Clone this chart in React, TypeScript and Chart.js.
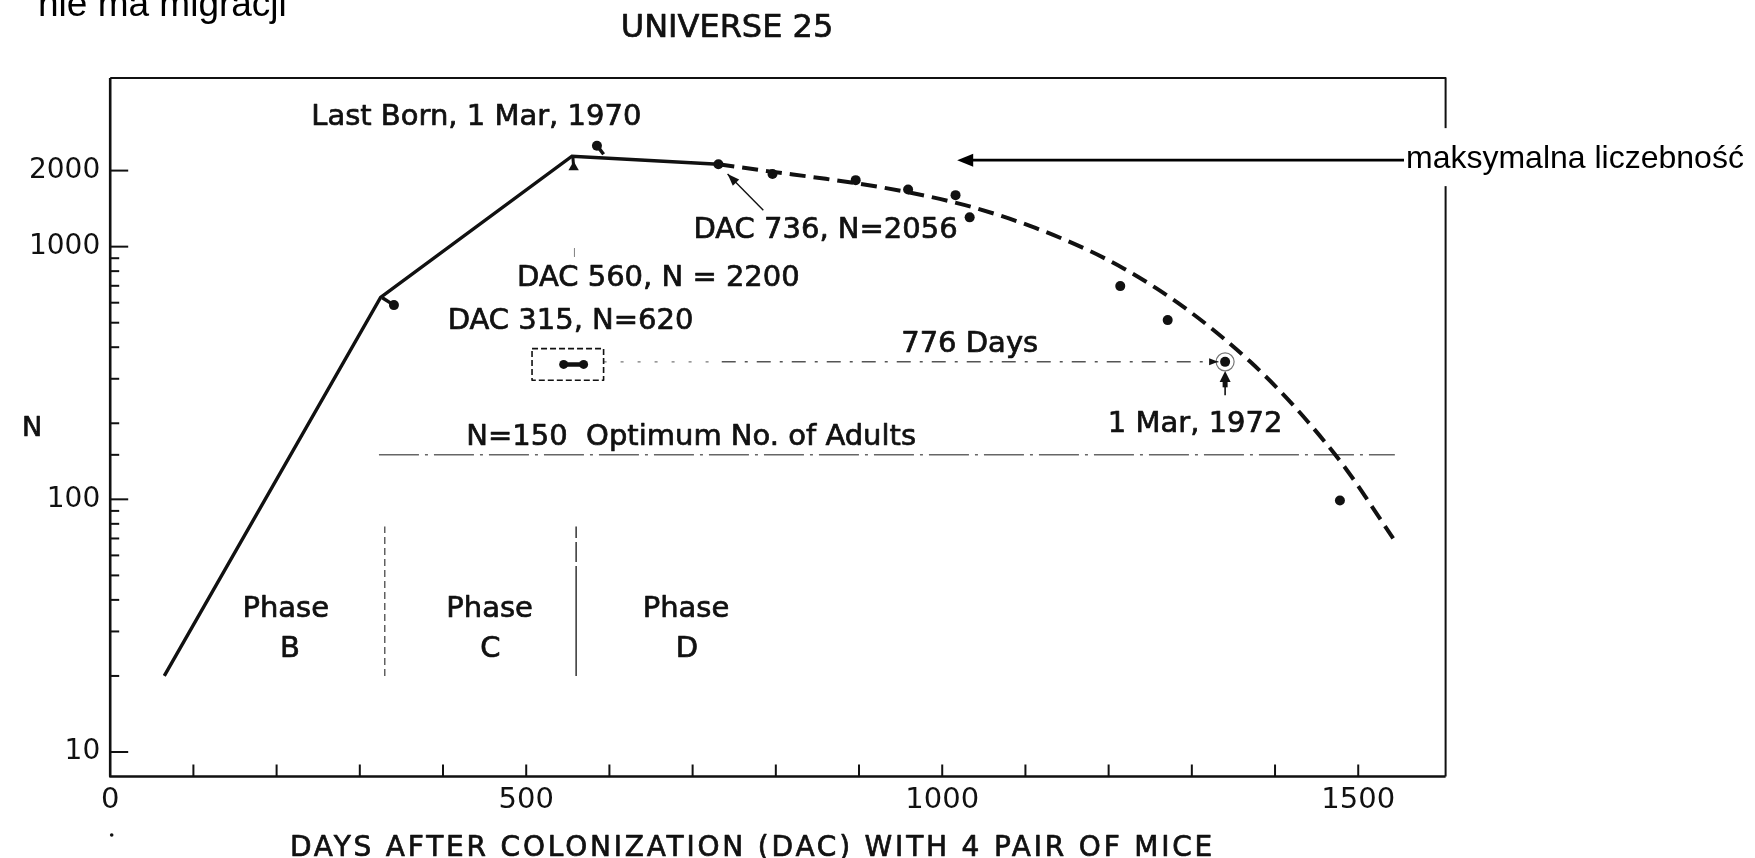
import React, { useEffect, useRef } from 'react';
import { Chart, registerables } from 'chart.js';

Chart.register(...registerables);

// ---------------- data ----------------
// solid population line (days after colonization, N)
const solidDays = [65, 325, 555, 731];
const solidN = [20, 630, 2280, 2120];

// dashed decline curve
const curveDays = [731, 790, 860, 928, 997, 1043, 1112, 1178, 1218, 1258, 1298, 1338, 1370, 1402, 1440, 1486, 1542];
const curveN = [2120, 1990, 1855, 1715, 1545, 1413, 1186, 959, 820, 682, 552, 434, 351, 277, 202, 131, 70];

// observed census points
const dotDays = [731, 796, 896, 959, 1016, 1033, 1214, 1271, 1340, 1478, 341, 585];
const dotN = [2120, 1940, 1833, 1683, 1599, 1306, 698, 512, 350, 99, 587, 2510];

// pair of points in the small box (start of the 776-day span)
const boxDotDays = [545, 569];
const boxDotN = [342, 342];
const boxDays = [507, 593];
const boxN = [296, 395];

// reference lines
const optimumDays = [323, 1544];
const optimumN = [150, 150];
const spanSparseDays = [593, 735];
const spanDays = [735, 1332];
const spanN = [350, 350];

// phase boundaries
const phaseBoundaryDays = [330, 560];
const phaseBoundaryN = [20, 78];

// markers pointing at the curve
const lastBornDays = [585, 593];
const lastBornN = [2510, 2320];
const peakMarkDays = [557, 556];
const peakMarkN = [2063, 2280];
const kneeMarkDays = [341, 327];
const kneeMarkN = [587, 628];
const peakTickDays = [558, 558];
const peakTickN = [986, 912];

// DAC 736 pointer, circled point arrow
const dac736PointerDays = [785, 742];
const dac736PointerN = [1394, 1937];
const circledDay = 1340;
const circledN = 350;
const upArrowN = [258, 322];
const maxArrowDay = 1018;
const maxArrowN = 2200;

// ticks
const xTickDays = [0, 100, 200, 300, 400, 500, 600, 700, 800, 900, 1000, 1100, 1200, 1300, 1400, 1500, 1600];
const xLabelDays = [0, 500, 1000, 1500];
const yTickValues = [10, 20, 30, 40, 50, 60, 70, 80, 90, 100, 150, 200, 300, 400, 500, 600, 700, 800, 900, 1000, 2000];
const yLabelValues = [10, 100, 1000, 2000];

const FONT = '"DejaVu Sans", "Liberation Sans", sans-serif';
const INK = '#111';

const pts = (xs: number[], ys: number[]) => xs.map((x, i) => ({ x, y: ys[i] }));

type Ann = { text: string; day: number; n: number; align: CanvasTextAlign };
const annotations: Ann[] = [
  { text: 'Last Born, 1 Mar, 1970', day: 440, n: 3340, align: 'center' },
  { text: 'DAC 736, N=2056', day: 701, n: 1189, align: 'left' },
  { text: 'DAC 560, N = 2200', day: 489, n: 766, align: 'left' },
  { text: 'DAC 315, N=620', day: 701, n: 520, align: 'right' },
  { text: '776 Days', day: 1033, n: 423, align: 'center' },
  { text: '1 Mar, 1972', day: 1304, n: 204, align: 'center' },
  { text: 'N=150  Optimum No. of Adults', day: 428, n: 181, align: 'left' },
  { text: 'Phase', day: 211, n: 37.8, align: 'center' },
  { text: 'B', day: 216, n: 26.2, align: 'center' },
  { text: 'Phase', day: 456, n: 37.8, align: 'center' },
  { text: 'C', day: 457, n: 26.2, align: 'center' },
  { text: 'Phase', day: 692, n: 37.8, align: 'center' },
  { text: 'D', day: 693, n: 26.2, align: 'center' },
];

function arrowHead(ctx: CanvasRenderingContext2D, x1: number, y1: number, x2: number, y2: number, len: number, half: number) {
  const a = Math.atan2(y2 - y1, x2 - x1);
  ctx.beginPath();
  ctx.moveTo(x2, y2);
  ctx.lineTo(x2 - len * Math.cos(a) + half * Math.sin(a), y2 - len * Math.sin(a) - half * Math.cos(a));
  ctx.lineTo(x2 - len * Math.cos(a) - half * Math.sin(a), y2 - len * Math.sin(a) + half * Math.cos(a));
  ctx.closePath();
  ctx.fill();
}

function boldText(ctx: CanvasRenderingContext2D, s: string, x: number, y: number, w = 0.7) {
  ctx.fillText(s, x, y);
  ctx.lineWidth = w;
  ctx.strokeText(s, x, y);
}

const overlay = {
  id: 'overlay',
  afterDatasetsDraw(chart: any) {
    const { ctx, chartArea: a, scales } = chart;
    const xs = scales.x;
    const ys = scales.y;
    const px = (d: number) => xs.getPixelForValue(d);
    const py = (n: number) => ys.getPixelForValue(n);
    ctx.save();
    ctx.strokeStyle = INK;
    ctx.fillStyle = INK;
    ctx.setLineDash([]);
    ctx.lineJoin = 'round';

    // frame
    ctx.lineWidth = 2.6;
    ctx.beginPath();
    ctx.moveTo(a.left, a.top);
    ctx.lineTo(a.left, a.bottom);
    ctx.lineTo(a.right, a.bottom);
    ctx.stroke();
    ctx.lineWidth = 2;
    ctx.beginPath();
    ctx.moveTo(a.left, a.top);
    ctx.lineTo(a.right, a.top);
    ctx.lineTo(a.right, a.bottom);
    ctx.stroke();

    // inward ticks
    ctx.lineWidth = 2;
    xTickDays.forEach((d) => {
      if (d <= 0 || d >= 1600) return;
      const X = px(d);
      ctx.beginPath();
      ctx.moveTo(X, a.bottom);
      ctx.lineTo(X, a.bottom - 12);
      ctx.stroke();
    });
    yTickValues.forEach((v) => {
      const Y = py(v);
      const len = yLabelValues.includes(v) ? 18 : 9;
      ctx.beginPath();
      ctx.moveTo(a.left, Y);
      ctx.lineTo(a.left + len, Y);
      ctx.stroke();
    });

    // dashed box around the pair of points
    ctx.lineWidth = 1.6;
    ctx.setLineDash([6, 3]);
    ctx.strokeRect(px(boxDays[0]), py(boxN[1]), px(boxDays[1]) - px(boxDays[0]), py(boxN[0]) - py(boxN[1]));
    ctx.setLineDash([]);

    // DAC 736 pointer
    {
      const x1 = px(dac736PointerDays[0]), y1 = py(dac736PointerN[0]);
      const x2 = px(dac736PointerDays[1]), y2 = py(dac736PointerN[1]);
      ctx.lineWidth = 1.4;
      ctx.beginPath();
      ctx.moveTo(x1, y1);
      ctx.lineTo(x2, y2);
      ctx.stroke();
      arrowHead(ctx, x1, y1, x2, y2, 12, 4.5);
    }

    // arrow on the 776-day line into the circled point
    {
      const X = px(circledDay) - 7, Y = py(circledN);
      arrowHead(ctx, X - 20, Y, X, Y, 9, 3.5);
    }

    // upward arrow below circled point
    {
      const X = px(circledDay);
      const yb = py(upArrowN[0]);
      const yt = py(upArrowN[1]);
      ctx.lineWidth = 1.6;
      ctx.beginPath();
      ctx.moveTo(X, yb);
      ctx.lineTo(X, yt + 8);
      ctx.stroke();
      ctx.lineWidth = 5;
      ctx.beginPath();
      ctx.moveTo(X, yb - 8);
      ctx.lineTo(X, yt + 8);
      ctx.stroke();
      arrowHead(ctx, X, yb, X, yt, 11, 5.5);
    }

    // annotation texts
    ctx.textBaseline = 'alphabetic';
    const size = 29;
    ctx.font = `${size}px ${FONT}`;
    annotations.forEach((t) => {
      ctx.textAlign = t.align;
      boldText(ctx, t.text, px(t.day), py(t.n) + 0.365 * size);
    });

    // "maksymalna liczebność" callout with arrow to max population
    {
      const tipX = px(maxArrowDay), tipY = py(maxArrowN);
      const textLeft = 1406;
      ctx.fillStyle = '#fff';
      ctx.fillRect(textLeft, tipY - 32, 1755 - textLeft, 58);
      ctx.fillStyle = '#000';
      ctx.strokeStyle = '#000';
      ctx.lineWidth = 2.6;
      ctx.beginPath();
      ctx.moveTo(textLeft - 2, tipY);
      ctx.lineTo(tipX + 12, tipY);
      ctx.stroke();
      arrowHead(ctx, tipX + 30, tipY, tipX, tipY, 16, 6.5);
      ctx.font = `32px "Liberation Sans", Arial, sans-serif`;
      ctx.textAlign = 'left';
      ctx.fillText('maksymalna liczebność', textLeft, tipY + 8);
    }

    // titles
    ctx.fillStyle = INK;
    ctx.strokeStyle = INK;
    ctx.font = `32px ${FONT}`;
    ctx.textAlign = 'center';
    boldText(ctx, 'UNIVERSE 25', 727, 36.7);

    ctx.font = `28px ${FONT}`;
    ctx.textAlign = 'left';
    (ctx as any).letterSpacing = '2.8px';
    boldText(ctx, 'DAYS AFTER COLONIZATION (DAC) WITH 4 PAIR OF MICE', 290, 856);
    (ctx as any).letterSpacing = '0px';

    ctx.font = `27px ${FONT}`;
    ctx.textAlign = 'center';
    boldText(ctx, 'N', 32, 436);

    // small speck below the origin
    ctx.beginPath();
    ctx.arc(a.left + 1.5, 835, 1.8, 0, Math.PI * 2);
    ctx.fill();

    // slide text cut at the top edge
    ctx.fillStyle = '#000';
    ctx.font = `37px "Liberation Sans", Arial, sans-serif`;
    ctx.textAlign = 'left';
    ctx.fillText('nie ma migracji', 38, 15.5);

    ctx.restore();
  },
};

export default function App() {
  const ref = useRef<HTMLCanvasElement>(null);

  useEffect(() => {
    if (!ref.current) return;
    const lineDs = (data: any[], extra: any = {}) => ({
      data,
      showLine: true,
      borderColor: INK,
      backgroundColor: INK,
      pointRadius: 0,
      borderWidth: 3,
      ...extra,
    });

    const chart = new Chart(ref.current, {
      type: 'scatter',
      data: {
        datasets: [
          lineDs(pts(solidDays, solidN), { borderWidth: 3.4 }),
          lineDs(pts(curveDays, curveN), { borderWidth: 4, borderDash: [16, 8], cubicInterpolationMode: 'monotone' }),
          {
            data: pts(dotDays, dotN),
            showLine: false,
            pointRadius: 5,
            pointBackgroundColor: INK,
            pointBorderColor: INK,
            pointBorderWidth: 0,
          },
          lineDs(pts(boxDotDays, boxDotN), { borderWidth: 4.5, pointRadius: 4.5, pointBackgroundColor: INK, pointBorderWidth: 0 }),
          lineDs(pts(optimumDays, optimumN), { borderWidth: 1.5, borderColor: '#666', borderDash: [40, 6, 3, 6] }),
          lineDs(pts(spanSparseDays, spanN), { borderWidth: 1.4, borderColor: '#777', borderDash: [3, 14] }),
          lineDs(pts(spanDays, spanN), { borderWidth: 1.5, borderColor: '#555', borderDash: [14, 9, 3, 9] }),
          lineDs(pts([phaseBoundaryDays[0], phaseBoundaryDays[0]], phaseBoundaryN), { borderWidth: 1.4, borderColor: '#555', borderDash: [7, 4] }),
          lineDs(pts([phaseBoundaryDays[1], phaseBoundaryDays[1]], phaseBoundaryN), { borderWidth: 1.5, borderColor: '#333', borderDash: [110, 4, 20, 4] }),
          lineDs(pts(lastBornDays, lastBornN), { borderWidth: 3.5 }),
          lineDs(pts(peakMarkDays, peakMarkN), { borderWidth: 3 }),
          lineDs(pts(kneeMarkDays, kneeMarkN), { borderWidth: 3.5 }),
          lineDs(pts(peakTickDays, peakTickN), { borderWidth: 1, borderColor: '#888' }),
          {
            data: pts([peakMarkDays[0]], [peakMarkN[0]]),
            showLine: false,
            pointStyle: 'triangle',
            pointRadius: 6,
            pointBackgroundColor: INK,
            pointBorderColor: INK,
            pointBorderWidth: 0,
          },
          {
            data: pts([circledDay], [circledN]),
            showLine: false,
            pointRadius: 9,
            pointBackgroundColor: 'rgba(0,0,0,0)',
            pointBorderColor: '#777',
            pointBorderWidth: 1.2,
          },
        ],
      },
      options: {
        responsive: false,
        animation: false,
        devicePixelRatio: 1,
        events: [],
        layout: { padding: { left: 0, top: 78, right: 1755 - 1445.6, bottom: 0 } },
        plugins: { legend: { display: false }, tooltip: { enabled: false }, title: { display: false } },
        scales: {
          x: {
            type: 'linear',
            min: 0,
            max: 1605,
            grid: { display: false, drawTicks: false },
            border: { display: false },
            afterFit: (s: any) => {
              s.height = 858 - 776.5;
            },
            afterBuildTicks: (s: any) => {
              s.ticks = xTickDays.map((v) => ({ value: v }));
            },
            ticks: {
              autoSkip: false,
              maxRotation: 0,
              minRotation: 0,
              padding: 6.5,
              color: INK,
              font: { family: FONT, size: 29 },
              callback: (v: any) => (xLabelDays.includes(Number(v)) ? String(v) : ''),
            },
          },
          y: {
            type: 'logarithmic',
            min: 8,
            max: 4650,
            grid: { display: false, drawTicks: false },
            border: { display: false },
            afterFit: (s: any) => {
              s.width = 110.2;
            },
            afterBuildTicks: (s: any) => {
              s.ticks = yTickValues.map((v) => ({ value: v }));
            },
            ticks: {
              autoSkip: false,
              padding: 10,
              color: INK,
              font: { family: FONT, size: 28 },
              callback: (v: any) => (yLabelValues.includes(Number(v)) ? String(v) : ''),
            },
          },
        },
      } as any,
      plugins: [overlay],
    });
    return () => chart.destroy();
  }, []);

  return (
    <div style={{ position: 'absolute', left: 0, top: 0, width: 1755, height: 858, background: '#fff', overflow: 'hidden' }}>
      <canvas ref={ref} width={1755} height={858} style={{ display: 'block', width: 1755, height: 858 }} />
    </div>
  );
}
